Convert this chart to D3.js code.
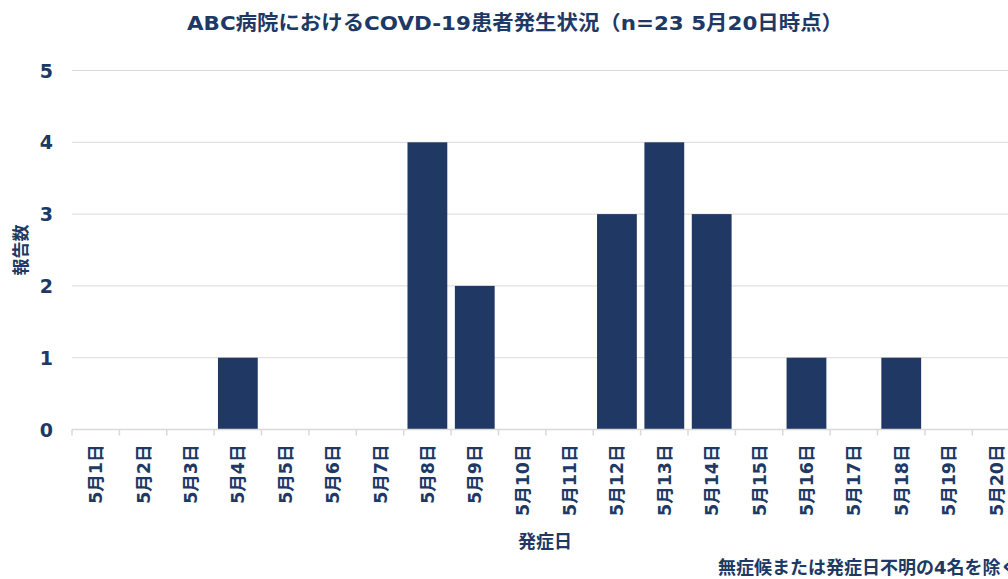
<!DOCTYPE html>
<html>
<head>
<meta charset="utf-8">
<script src="https://cdn.jsdelivr.net/npm/d3@7"></script>
<style>
  body { margin: 0; background: #fff; overflow: hidden; }
  text { font-family: "DejaVu Sans", "Noto Sans CJK JP", sans-serif; font-weight: bold; fill: #203864; }
</style>
</head>
<body>
<div id="chart"></div>
<script>
// データ
const days = ["5月1日","5月2日","5月3日","5月4日","5月5日","5月6日","5月7日","5月8日","5月9日","5月10日",
              "5月11日","5月12日","5月13日","5月14日","5月15日","5月16日","5月17日","5月18日","5月19日","5月20日"];
const counts = [0,0,0,1,0,0,0,4,2,0,0,3,4,3,0,1,0,1,0,0];
const yTicks = [0,1,2,3,4,5];

const width = 1008, height = 579;
const margin = { left: 72, top: 70.5, bottom: 149.5 };
const plotRight = 1019.7;   // area runs past the window edge
const innerWidth = plotRight - margin.left;
const innerHeight = height - margin.top - margin.bottom;

const svg = d3.select("#chart").append("svg")
  .attr("width", width)
  .attr("height", height);

const g = svg.append("g")
  .attr("transform", `translate(${margin.left}, ${margin.top})`);

const data = days.map((d, i) => ({ day: d, value: counts[i] }));

const x = d3.scaleBand()
  .domain(days)
  .range([0, innerWidth])
  .paddingInner(0.16)
  .paddingOuter(0.08);

const y = d3.scaleLinear()
  .domain([0, 5])
  .range([innerHeight, 0]);

// grid
g.append("g")
  .selectAll("line")
  .data(yTicks.filter(t => t > 0))
  .enter()
  .append("line")
  .attr("x1", 0)
  .attr("x2", innerWidth)
  .attr("y1", d => y(d))
  .attr("y2", d => y(d))
  .attr("stroke", "#d9d9d9")
  .attr("stroke-width", 1);

// bars
g.append("g")
  .selectAll("rect")
  .data(data)
  .enter()
  .append("rect")
  .attr("x", d => x(d.day))
  .attr("y", d => y(d.value))
  .attr("width", x.bandwidth())
  .attr("height", d => innerHeight - y(d.value))
  .attr("fill", "#203864");

// x axis line + ticks between categories
const step = x.step();
const x0 = x(days[0]) - x.paddingOuter() * step;
g.append("line")
  .attr("x1", 0)
  .attr("x2", innerWidth)
  .attr("y1", innerHeight)
  .attr("y2", innerHeight)
  .attr("stroke", "#d9d9d9")
  .attr("stroke-width", 1.5);

g.append("g")
  .selectAll("line")
  .data(d3.range(days.length + 1))
  .enter()
  .append("line")
  .attr("x1", i => x0 + i * step)
  .attr("x2", i => x0 + i * step)
  .attr("y1", innerHeight)
  .attr("y2", innerHeight + 6)
  .attr("stroke", "#d9d9d9")
  .attr("stroke-width", 1.5);

// x labels (rotated)
g.append("g")
  .selectAll("text")
  .data(days)
  .enter()
  .append("text")
  .attr("transform", d => `translate(${x(d) + x.bandwidth() / 2 + 6.5}, ${innerHeight + 15}) rotate(-90)`)
  .attr("text-anchor", "end")
  .style("font-size", "17.5px")
  .text(d => d);

// y labels
g.append("g")
  .selectAll("text")
  .data(yTicks)
  .enter()
  .append("text")
  .attr("x", -19)
  .attr("y", d => y(d) + 7)
  .attr("text-anchor", "end")
  .style("font-size", "19px")
  .text(d => d);

// titles
svg.append("text")
  .attr("x", 515)
  .attr("y", 30)
  .attr("text-anchor", "middle")
  .attr("textLength", 656)
  .attr("lengthAdjust", "spacingAndGlyphs")
  .style("font-size", "20px")
  .text("ABC病院におけるCOVD-19患者発生状況（n=23 5月20日時点）");

svg.append("text")
  .attr("transform", "translate(27, 250) rotate(-90)")
  .attr("text-anchor", "middle")
  .style("font-size", "17px")
  .text("報告数");

svg.append("text")
  .attr("x", 545)
  .attr("y", 548)
  .attr("text-anchor", "middle")
  .style("font-size", "18px")
  .text("発症日");

svg.append("text")
  .attr("x", 718)
  .attr("y", 574)
  .style("font-size", "18px")
  .text("無症候または発症日不明の4名を除く");
</script>
</body>
</html>
